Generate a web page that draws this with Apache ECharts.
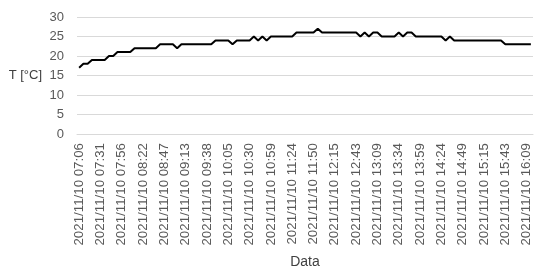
<!DOCTYPE html>
<html>
<head>
<meta charset="utf-8">
<script src="https://cdn.jsdelivr.net/npm/echarts@6/dist/echarts.min.js"></script>
<style>
  html, body { margin: 0; padding: 0; background: #fff; }
  #temp_chart { width: 550px; height: 276px; }
</style>
</head>
<body>
<div id="temp_chart"></div>
<script>
// tick labels shown on the x axis (one every 5 readings)
var tickLabels = [
  '2021/11/10 07:06', '2021/11/10 07:31', '2021/11/10 07:56', '2021/11/10 08:22',
  '2021/11/10 08:47', '2021/11/10 09:13', '2021/11/10 09:38', '2021/11/10 10:05',
  '2021/11/10 10:30', '2021/11/10 10:59', '2021/11/10 11:24', '2021/11/10 11:50',
  '2021/11/10 12:15', '2021/11/10 12:43', '2021/11/10 13:09', '2021/11/10 13:34',
  '2021/11/10 13:59', '2021/11/10 14:24', '2021/11/10 14:49', '2021/11/10 15:15',
  '2021/11/10 15:43', '2021/11/10 16:09'
];

// temperature readings [°C]
var temps = [
  17, 18, 18, 19, 19, 19, 19, 20, 20, 21,
  21, 21, 21, 22, 22, 22, 22, 22, 22, 23,
  23, 23, 23, 22, 23, 23, 23, 23, 23, 23,
  23, 23, 24, 24, 24, 24, 23, 24, 24, 24,
  24, 25, 24, 25, 24, 25, 25, 25, 25, 25,
  25, 26, 26, 26, 26, 26, 27, 26, 26, 26,
  26, 26, 26, 26, 26, 26, 25, 26, 25, 26,
  26, 25, 25, 25, 25, 26, 25, 26, 26, 25,
  25, 25, 25, 25, 25, 25, 24, 25, 24, 24,
  24, 24, 24, 24, 24, 24, 24, 24, 24, 24,
  23, 23, 23, 23, 23, 23, 23
];

var yTicks = [0, 5, 10, 15, 20, 25, 30];

// categories: every 5th reading carries a label
var categories = temps.map(function (v, i) {
  return i % 5 === 0 ? tickLabels[i / 5] : '';
});

var chart = echarts.init(document.getElementById('temp_chart'));

var option = {
  animation: false,
  textStyle: { fontFamily: 'Liberation Sans, Arial, sans-serif' },
  grid: {
    left: 77,
    right: 17,
    top: 17,
    bottom: 142,
    containLabel: false
  },
  xAxis: {
    type: 'category',
    data: categories,
    boundaryGap: true,
    name: 'Data',
    nameLocation: 'middle',
    nameGap: 121,
    nameTextStyle: { color: '#404040', fontSize: 14 },
    axisLine: { show: true, lineStyle: { color: '#d9d9d9', width: 1 } },
    axisTick: { show: false },
    axisLabel: {
      interval: 4,
      rotate: 90,
      margin: 9,
      color: '#595959',
      fontSize: 13.3
    },
    splitLine: { show: false }
  },
  yAxis: {
    type: 'value',
    min: yTicks[0],
    max: yTicks[yTicks.length - 1],
    interval: 5,
    name: 'T [°C]',
    nameLocation: 'middle',
    nameRotate: 0,
    nameGap: 35,
    nameTextStyle: { color: '#404040', fontSize: 13 },
    axisLine: { show: false },
    axisTick: { show: false },
    axisLabel: { color: '#595959', fontSize: 13, margin: 13 },
    splitLine: { show: true, lineStyle: { color: '#d9d9d9', width: 1 } }
  },
  series: [{
    type: 'line',
    data: temps,
    showSymbol: false,
    symbol: 'none',
    lineStyle: { color: '#000', width: 2 }
  }]
};

chart.setOption(option);
</script>
</body>
</html>
